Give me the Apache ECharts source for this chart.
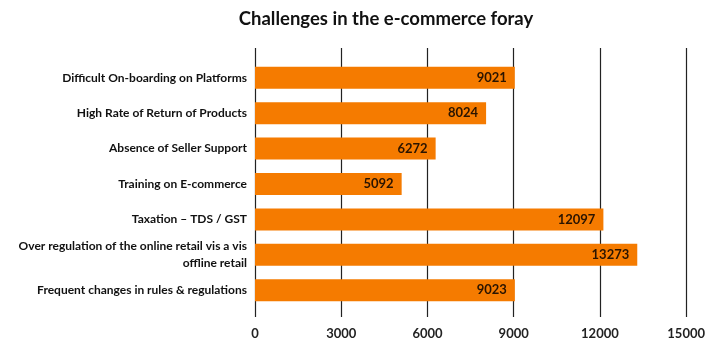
<!DOCTYPE html>
<html>
<head>
<meta charset="utf-8">
<script src="https://cdn.jsdelivr.net/npm/echarts@6/dist/echarts.min.js"></script>
<style>
  html, body { margin: 0; padding: 0; background: #fff; }
  #chart { width: 708px; height: 345px; }
</style>
</head>
<body>
<div id="chart"></div>
<script>
// Survey responses: challenges faced by sellers going online
const challenges = [
  'Difficult On-boarding on Platforms',
  'High Rate of Return of Products',
  'Absence of Seller Support',
  'Training on E-commerce',
  'Taxation \u2013 TDS / GST',
  'Over regulation of the online retail vis a vis\noffline retail',
  'Frequent changes in rules & regulations'
];
const responses = [9021, 8024, 6272, 5092, 12097, 13273, 9023];
const xTicks = [0, 3000, 6000, 9000, 12000, 15000];

const FONT = 'Lato, "Open Sans", sans-serif';
const xMin = xTicks[0];
const xMax = xTicks[xTicks.length - 1];
const xStep = xTicks[1] - xTicks[0];

const chart = echarts.init(document.getElementById('chart'), null, { renderer: 'canvas' });
chart.setOption({
  animation: false,
  backgroundColor: '#ffffff',
  title: {
    text: 'Challenges in the e-commerce foray',
    left: 381,
    textAlign: 'center',
    top: 5,
    textStyle: { fontFamily: FONT, fontWeight: 'bold', fontSize: 18.5, color: '#111' }
  },
  grid: [
    // bars
    { left: 255, right: 21, top: 60, bottom: 37 },
    // vertical grid lines and value labels
    { left: 255, right: 21, top: 48, bottom: 28 }
  ],
  xAxis: [
    {
      gridIndex: 0, type: 'value', min: xMin, max: xMax, interval: xStep,
      show: false
    },
    {
      gridIndex: 1, type: 'value', min: xMin, max: xMax, interval: xStep,
      axisLine: { show: false },
      axisTick: { show: false },
      splitLine: { show: true, lineStyle: { color: '#222', width: 1.2 } },
      axisLabel: {
        margin: 10,
        fontFamily: FONT, fontWeight: 'bold', fontSize: 13, color: '#222',
        formatter: v => String(v)
      }
    }
  ],
  yAxis: [
    {
      gridIndex: 0, type: 'category', data: challenges, inverse: true,
      axisLine: { show: false },
      axisTick: { show: false },
      axisLabel: {
        margin: 8, align: 'right', lineHeight: 17,
        fontFamily: FONT, fontWeight: 'bold', fontSize: 12, color: '#111'
      }
    },
    {
      gridIndex: 1, type: 'category', data: challenges, show: false
    }
  ],
  series: [
    {
      type: 'bar',
      xAxisIndex: 0, yAxisIndex: 0,
      data: responses,
      barWidth: 22,
      itemStyle: { color: '#F57B00' },
      label: {
        show: true, position: 'insideRight', distance: 8,
        fontFamily: FONT, fontWeight: 'bold', fontSize: 13, color: '#2a1400'
      },
      z: 3
    }
  ]
});
</script>
</body>
</html>
